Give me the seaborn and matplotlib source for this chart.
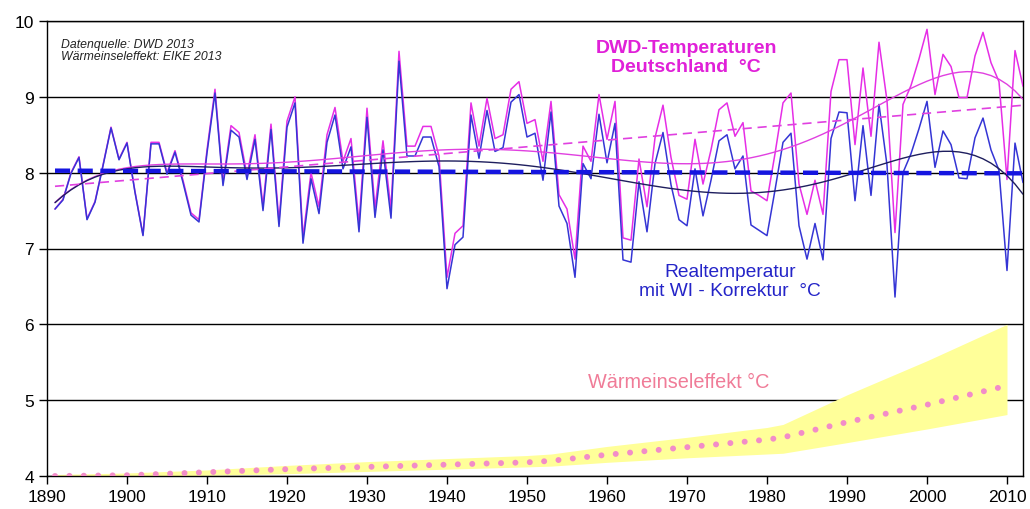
import numpy as np
import pandas as pd
import matplotlib
matplotlib.use("Agg")
import matplotlib.pyplot as plt
import seaborn as sns

# Jahresmittel 1891-2012
years = list(range(1891, 2013))

dwd_temp = [
    7.52, 7.65, 8.00, 8.21, 7.39, 7.62, 8.10, 8.60, 8.18, 8.40,   # 1891-1900
    7.75, 7.18, 8.40, 8.40, 8.00, 8.29, 7.90, 7.47, 7.38, 8.30,   # 1901-1910
    9.10, 7.87, 8.62, 8.53, 7.97, 8.50, 7.56, 8.64, 7.36, 8.68,   # 1911-1920
    9.00, 7.15, 8.00, 7.55, 8.50, 8.86, 8.15, 8.45, 7.33, 8.85,   # 1921-1930
    7.53, 8.42, 7.52, 9.60, 8.35, 8.35, 8.61, 8.61, 8.22, 6.62,   # 1931-1940
    7.20, 7.30, 8.92, 8.35, 8.98, 8.45, 8.50, 9.10, 9.20, 8.65,   # 1941-1950
    8.70, 8.15, 8.94, 7.71, 7.52, 6.86, 8.35, 8.15, 9.03, 8.44,   # 1951-1960
    8.94, 7.14, 7.11, 8.18, 7.55, 8.46, 8.89, 8.20, 7.70, 7.65,   # 1961-1970
    8.44, 7.85, 8.30, 8.83, 8.92, 8.48, 8.66, 7.76, 7.70, 7.63,   # 1971-1980
    8.25, 8.92, 9.05, 7.85, 7.45, 7.90, 7.45, 9.07, 9.49, 9.49,   # 1981-1990
    8.37, 9.38, 8.48, 9.72, 8.95, 7.21, 8.90, 9.15, 9.50, 9.89,   # 1991-2000
    9.03, 9.56, 9.40, 8.99, 8.99, 9.54, 9.85, 9.45, 9.20, 7.91,   # 2001-2010
    9.61, 9.14,                                                   # 2011-2012
]

real_temp = [
    7.52, 7.64, 7.99, 8.20, 7.38, 7.61, 8.09, 8.59, 8.17, 8.39,
    7.74, 7.17, 8.38, 8.38, 7.98, 8.27, 7.87, 7.44, 7.35, 8.26,
    9.05, 7.83, 8.56, 8.47, 7.91, 8.44, 7.50, 8.57, 7.29, 8.60,
    8.92, 7.07, 7.92, 7.46, 8.40, 8.76, 8.05, 8.34, 7.22, 8.73,
    7.41, 8.30, 7.40, 9.47, 8.22, 8.22, 8.47, 8.47, 8.08, 6.47,
    7.05, 7.15, 8.76, 8.19, 8.82, 8.28, 8.33, 8.93, 9.03, 8.47,
    8.52, 7.90, 8.80, 7.56, 7.33, 6.62, 8.12, 7.92, 8.77, 8.13,
    8.65, 6.85, 6.82, 7.88, 7.22, 8.12, 8.53, 7.84, 7.38, 7.30,
    8.05, 7.43, 7.90, 8.42, 8.50, 8.05, 8.22, 7.31, 7.24, 7.17,
    7.77, 8.40, 8.52, 7.30, 6.86, 7.33, 6.85, 8.45, 8.80, 8.79,
    7.63, 8.62, 7.70, 8.90, 8.10, 6.36, 8.00, 8.25, 8.58, 8.94,
    8.07, 8.55, 8.37, 7.93, 7.92, 8.46, 8.72, 8.30, 8.03, 6.71,
    8.39, 7.87,
]

# Waermeinseleffekt (EIKE) mit Unsicherheitsband
wi_years = [1891, 1900, 1910, 1920, 1930, 1940, 1950, 1953, 1960, 1970, 1980, 1982, 1990, 2000, 2010]
wi_effect = [4.00, 4.01, 4.05, 4.09, 4.12, 4.15, 4.18, 4.20, 4.28, 4.38, 4.48, 4.51, 4.71, 4.94, 5.19]
wi_low = [3.99, 3.99, 4.01, 4.03, 4.06, 4.09, 4.12, 4.13, 4.18, 4.24, 4.29, 4.30, 4.44, 4.62, 4.81]
wi_high = [4.02, 4.04, 4.08, 4.14, 4.19, 4.23, 4.27, 4.29, 4.39, 4.51, 4.64, 4.68, 5.07, 5.52, 6.00]

sns.set_style("white")
plt.rcParams["font.family"] = ["Liberation Sans", "DejaVu Sans"]

df = pd.DataFrame({"Jahr": years, "DWD": dwd_temp, "Real": real_temp})
t = (df["Jahr"] - 1951.5) / 60.5


def trend(values, deg):
    return np.polyval(np.polyfit(t, values, deg), t)


df["DWD_poly"] = trend(df["DWD"], 6)
df["Real_poly"] = trend(df["Real"], 6)
df["DWD_lin"] = trend(df["DWD"], 1)
df["Real_lin"] = trend(df["Real"], 1)

fig = plt.figure(figsize=(10.3, 5.1), dpi=100)
ax = fig.add_axes([47 / 1030, 1 - 477 / 510, (1023 - 47) / 1030, (477 - 22) / 510])

# WI band + dotted line
ax.fill_between(wi_years, wi_low, wi_high, color="#FFFF99", lw=0, zorder=2)
sns.lineplot(x=wi_years, y=wi_effect, ax=ax, color="#F28CC8", lw=4.3,
             linestyle=(0, (0.01, 2.4)), dash_capstyle="round", zorder=3)

# temperature series
sns.lineplot(data=df, x="Jahr", y="DWD", ax=ax, color="#E62EE6", lw=1.1, zorder=4)
sns.lineplot(data=df, x="Jahr", y="Real", ax=ax, color="#3535D5", lw=1.1, zorder=5)

# trends
sns.lineplot(data=df, x="Jahr", y="DWD_poly", ax=ax, color="#E040E0", lw=1.0, zorder=6)
sns.lineplot(data=df, x="Jahr", y="Real_poly", ax=ax, color="#1E1E5E", lw=1.0, zorder=6)
sns.lineplot(data=df, x="Jahr", y="DWD_lin", ax=ax, color="#E040E0", lw=1.2,
             linestyle=(0, (5.5, 3.5)), zorder=6)
sns.lineplot(data=df, x="Jahr", y="Real_lin", ax=ax, color="#1515E0", lw=3.2,
             linestyle=(0, (3.4, 1.7)), zorder=7)

ax.set_xlim(1890, 2012)
ax.set_ylim(4, 10)
ax.set_xticks(range(1890, 2011, 10))
ax.set_yticks(range(4, 11))
ax.set_axisbelow(True)
ax.yaxis.grid(True, color="black", lw=1.0)
ax.xaxis.grid(False)
for s in ax.spines.values():
    s.set_color("black")
    s.set_linewidth(1.0)
ax.tick_params(axis="both", direction="out", bottom=True, left=True,
               length=6, width=1, color="black", labelsize=12.5, labelcolor="black")
ax.set_xlabel("")
ax.set_ylabel("")

ax.text(1891.8, 9.62, "Datenquelle: DWD 2013\nWärmeinseleffekt: EIKE 2013",
        fontsize=8.8, style="italic", color="#222222", va="center", ha="left", linespacing=1.0)
ax.text(1969.9, 9.53, "DWD-Temperaturen\nDeutschland  °C", fontsize=14, fontweight="bold",
        color="#E020D8", ha="center", va="center", linespacing=1.15)
ax.text(1975.4, 6.57, "Realtemperatur\nmit WI - Korrektur  °C", fontsize=13.8,
        color="#2424C8", ha="center", va="center", linespacing=1.15)
ax.text(1968.9, 5.25, "Wärmeinseleffekt °C", fontsize=14.3, color="#F07C98",
        ha="center", va="center")

fig.savefig("out.png", dpi=100)
